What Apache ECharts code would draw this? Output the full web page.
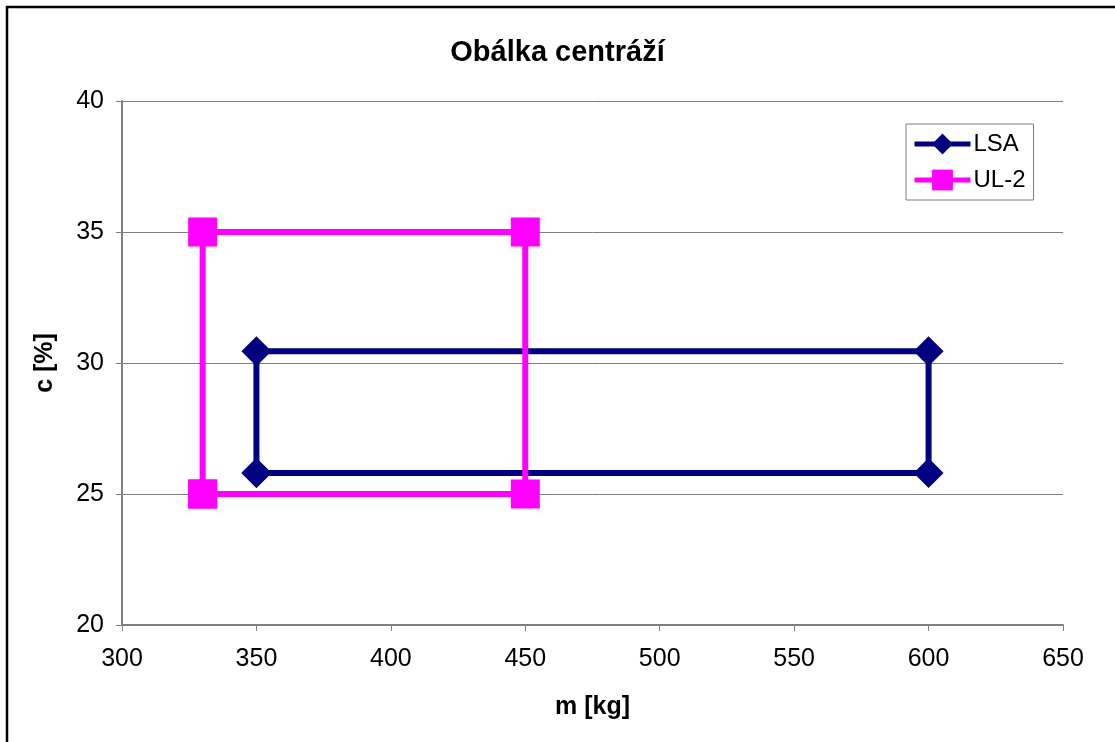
<!DOCTYPE html>
<html><head><meta charset="utf-8">
<script src="https://cdn.jsdelivr.net/npm/echarts@6/dist/echarts.min.js"></script>
<style>html,body{margin:0;padding:0;background:#fff}#c{width:1115px;height:742px}</style>
</head><body><div id="c"></div>
<script>
const lsaMass = [350, 350, 600, 600, 350];
const lsaCg   = [25.8, 30.45, 30.45, 25.8, 25.8];
const ulMass  = [330, 330, 450, 450, 330];
const ulCg    = [25, 35, 35, 25, 25];
const seriesNames = ['LSA', 'UL-2'];
const xTicks = [300, 650, 50];
const yTicks = [20, 40, 5];

const zip = (a, b) => a.map((v, i) => [v, b[i]]);
const font = 'Liberation Sans, Arial, sans-serif';
const chart = echarts.init(document.getElementById('c'), null, {renderer: 'canvas'});
chart.setOption({
  animation: false,
  backgroundColor: '#fff',
  graphic: [{type: 'rect', shape: {x: 7, y: 7, width: 1200, height: 800}, style: {fill: 'none', stroke: '#000', lineWidth: 2.5}, z: 100}],
  title: {text: 'Obálka centráží', left: 'center', top: 33, textStyle: {fontFamily: font, fontSize: 29, fontWeight: 'bold', color: '#000'}},
  grid: {left: 122, top: 101, width: 941, height: 524, containLabel: false},
  legend: {
    orient: 'vertical', left: 906, top: 124, padding: [8, 8, 8, 6], itemGap: 12,
    borderColor: '#808080', borderWidth: 1, itemWidth: 56, itemHeight: 26,
    lineStyle: {width: 5},
    textStyle: {fontFamily: font, fontSize: 24, color: '#000', padding: [0, 0, 0, -2]},
    data: seriesNames
  },
  xAxis: {
    type: 'value', min: xTicks[0], max: xTicks[1], interval: xTicks[2],
    name: 'm [kg]', nameLocation: 'middle', nameGap: 70,
    nameTextStyle: {fontFamily: font, fontSize: 25, fontWeight: 'bold', color: '#000'},
    axisLine: {show: true, lineStyle: {color: '#808080', width: 2}},
    axisTick: {show: true, length: 6, lineStyle: {color: '#808080'}},
    axisLabel: {fontFamily: font, fontSize: 25, color: '#000', margin: 22},
    splitLine: {show: false}
  },
  yAxis: {
    type: 'value', min: yTicks[0], max: yTicks[1], interval: yTicks[2],
    name: 'c [%]', nameLocation: 'middle', nameGap: 64, nameRotate: 90,
    nameTextStyle: {fontFamily: font, fontSize: 25, fontWeight: 'bold', color: '#000'},
    axisLine: {show: true, lineStyle: {color: '#808080', width: 2}},
    axisTick: {show: true, length: 6, lineStyle: {color: '#808080'}},
    axisLabel: {fontFamily: font, fontSize: 25, color: '#000', margin: 18},
    splitLine: {show: true, lineStyle: {color: '#808080', width: 1}}
  },
  series: [
    {name: seriesNames[0], type: 'line', data: zip(lsaMass, lsaCg), symbol: 'diamond', symbolSize: 30,
     itemStyle: {color: '#000080'}, lineStyle: {color: '#000080', width: 6}},
    {name: seriesNames[1], type: 'line', data: zip(ulMass, ulCg), symbol: 'rect', symbolSize: 29,
     itemStyle: {color: '#FF00FF'}, lineStyle: {color: '#FF00FF', width: 6}}
  ]
});
</script></body></html>
